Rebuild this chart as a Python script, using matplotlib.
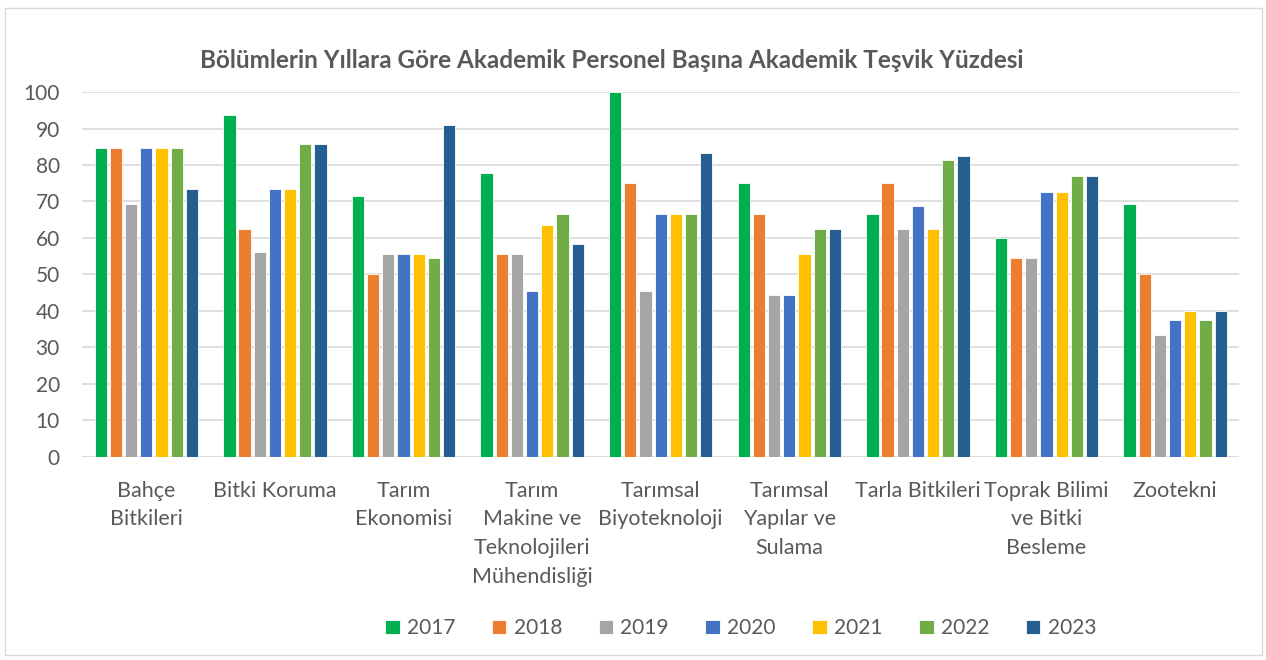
import numpy as np
import matplotlib.pyplot as plt
from matplotlib.patches import Rectangle

plt.rcParams['font.family'] = ['Lato', 'DejaVu Sans']

# Departments (wrapped like the original axis labels)
departments = ['Bahçe\nBitkileri', 'Bitki Koruma', 'Tarım\nEkonomisi',
               'Tarım\nMakine ve\nTeknolojileri\nMühendisliği',
               'Tarımsal\nBiyoteknoloji', 'Tarımsal\nYapılar ve\nSulama',
               'Tarla Bitkileri', 'Toprak Bilimi\nve Bitki\nBesleme', 'Zootekni']
years = ['2017', '2018', '2019', '2020', '2021', '2022', '2023']

# Percent values per year, one entry per department
y2017 = [84.6, 93.75, 71.4, 77.8, 100.0, 75.0, 66.7, 60.0, 69.2]
y2018 = [84.6, 62.5, 50.0, 55.6, 75.0, 66.7, 75.0, 54.5, 50.0]
y2019 = [69.2, 56.25, 55.6, 55.6, 45.5, 44.4, 62.5, 54.5, 33.3]
y2020 = [84.6, 73.3, 55.6, 45.5, 66.7, 44.4, 68.75, 72.7, 37.5]
y2021 = [84.6, 73.3, 55.6, 63.6, 66.7, 55.6, 62.5, 72.7, 40.0]
y2022 = [84.6, 85.7, 54.5, 66.7, 66.7, 62.5, 81.25, 76.9, 37.5]
y2023 = [73.3, 85.7, 90.9, 58.3, 83.3, 62.5, 82.35, 76.9, 40.0]
series = [y2017, y2018, y2019, y2020, y2021, y2022, y2023]

colors = ['#00B050', '#ED7D31', '#A5A5A5', '#4472C4', '#FFC000', '#70AD47', '#255E91']
text_col = '#595959'

fig = plt.figure(figsize=(12.66, 6.6), dpi=100)
ax = fig.add_axes([0.0648, 0.3076, 0.9142, 0.553])

# chart frame
fig.patches.append(Rectangle((5 / 1266, 5 / 660), 1257 / 1266, 647 / 660,
                             transform=fig.transFigure, fill=False,
                             edgecolor='#D9D9D9', linewidth=1))

x = np.arange(len(departments))
pitch = 0.118
width = 0.095
for i, vals in enumerate(series):
    ax.bar(x + (i - 3) * pitch, vals, width, color=colors[i],
           edgecolor='white', linewidth=0.6, label=years[i], zorder=3)

ax.set_xlim(-0.5, len(departments) - 0.5)
ax.set_ylim(0, 100)
ax.set_yticks(range(0, 101, 10))
ax.yaxis.grid(True, color='#D9D9D9', linewidth=1.2, zorder=0)
for s in ax.spines.values():
    s.set_visible(False)
ax.axhline(0, color='#D9D9D9', linewidth=1.2, zorder=1)
ax.tick_params(axis='both', length=0, colors=text_col)
ax.tick_params(axis='y', labelsize=15, pad=16)
ax.tick_params(axis='x', labelsize=15.5, pad=17)
ax.set_xticks(x)
ax.set_xticklabels(departments, linespacing=1.55)

fig.text(0.483, 0.908, 'Bölümlerin Yıllara Göre Akademik Personel Başına Akademik Teşvik Yüzdesi',
         ha='center', va='center', fontsize=17.5, fontweight='bold', color=text_col)

leg = fig.legend(loc='center', bbox_to_anchor=(0.585, 0.048), ncol=7, frameon=False,
                 fontsize=15, handlelength=0.7, handleheight=0.7,
                 handletextpad=0.35, columnspacing=1.75)
for t in leg.get_texts():
    t.set_color(text_col)

fig.savefig('out.png', dpi=100)
